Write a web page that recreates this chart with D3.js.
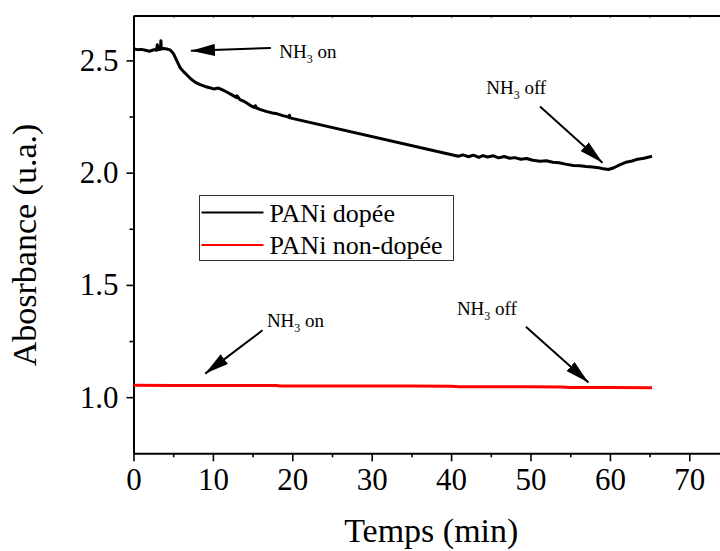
<!DOCTYPE html>
<html>
<head>
<meta charset="utf-8">
<script src="https://d3js.org/d3.v7.min.js"></script>
<style>
  body { margin: 0; background: #fff; }
  svg { display: block; font-family: "Liberation Serif", "Times New Roman", serif; }
</style>
</head>
<body>
<svg id="chart"></svg>
<script>
// PANi dopée (black) - time in min, absorbance
var dopedTime = [0, 0.5, 1, 1.5, 2, 2.3, 2.6, 2.9, 3.0, 3.1, 3.4, 3.45, 3.5, 3.8, 4.2, 4.6,
  5.0, 5.3, 5.6, 5.9, 6.3, 6.7, 7.2, 7.8, 8.4, 9.0, 9.6, 10.1, 10.7, 11.2, 11.8, 12.5,
  13.0, 13.05, 13.4, 14.0, 14.6, 15.1, 15.3, 15.35, 15.5, 16.0, 16.8, 17.5, 18.1, 18.8,
  19.4, 19.6, 19.65, 19.7,
  40.9, 41.5, 42.2, 42.8, 43.5, 44.0, 44.6, 45.3, 46.0, 46.7, 47.4, 48.0, 48.8, 49.5,
  50.3, 51.2, 52.0, 52.8, 53.6, 54.4, 55.4, 56.2, 57.0, 57.8, 58.6, 59.2, 59.8, 60.5,
  61.3, 62.0, 62.8, 63.5, 64.3, 65.3];
var dopedAbs = [2.552, 2.548, 2.549, 2.545, 2.541, 2.544, 2.548, 2.545, 2.570, 2.548, 2.550, 2.588, 2.552, 2.553, 2.551, 2.547,
  2.532, 2.510, 2.488, 2.466, 2.450, 2.436, 2.418, 2.402, 2.392, 2.384, 2.378, 2.373, 2.377, 2.369, 2.358, 2.344,
  2.334, 2.342, 2.325, 2.316, 2.302, 2.292, 2.290, 2.298, 2.288, 2.281, 2.272, 2.266, 2.262, 2.254,
  2.249, 2.246, 2.256, 2.244,
  2.073, 2.079, 2.071, 2.078, 2.068, 2.076, 2.070, 2.075, 2.066, 2.072, 2.064, 2.067, 2.060, 2.063,
  2.055, 2.051, 2.053, 2.046, 2.044, 2.038, 2.032, 2.031, 2.027, 2.025, 2.022, 2.017, 2.014, 2.022,
  2.036, 2.046, 2.052, 2.060, 2.064, 2.073];

// PANi non-dopée (red)
var undopedTime = [0, 5, 10, 15, 18, 18.5, 25, 30, 35, 40, 41, 45, 50, 54, 55, 60, 65.3];
var undopedAbs = [1.053, 1.052, 1.052, 1.052, 1.052, 1.050, 1.050, 1.050, 1.050, 1.049, 1.046, 1.046, 1.046, 1.045, 1.043, 1.043, 1.042];

var seriesNames = ["PANi dopée", "PANi non-dopée"];
var seriesColors = ["#000000", "#ff0000"];

var xMajorTicks = [0, 10, 20, 30, 40, 50, 60, 70];
var xMinorTicks = [5, 15, 25, 35, 45, 55, 65, 75];
var yMajorTicks = [1.0, 1.5, 2.0, 2.5];
var yMinorTicks = [1.25, 1.75, 2.25];

// arrows: label, text x/y, tail x/y, tip x/y in data units
var annotLabels = ["on", "off", "on", "off"];
var annotText = [[18.35, 2.511], [44.42, 2.352], [16.8, 1.314], [40.73, 1.364]];
var annotTail = [[17.3, 2.555], [51.2, 2.295], [16.25, 1.298], [49.42, 1.314]];
var annotTip = [[7.23, 2.543], [59.07, 2.044], [9.03, 1.105], [57.3, 1.065]];

var serif = '"Liberation Serif", "Times New Roman", serif';

var margin = {top: 15.5, left: 133.5},
    width = 595.5,
    height = 437.8;

var svg = d3.select("#chart")
    .attr("width", 720)
    .attr("height", 551);

var g = svg.append("g")
    .attr("transform", "translate(" + margin.left + "," + margin.top + ")");

var x = d3.scaleLinear().domain([0, 75]).range([0, width]);
var y = d3.scaleLinear().domain([0.75, 2.7]).range([height, 0]);

// minor ticks
g.append("g")
    .attr("transform", "translate(0," + height + ")")
    .call(d3.axisBottom(x).tickValues(xMinorTicks).tickSize(4).tickFormat(""))
    .call(a => a.select(".domain").remove());
g.append("g")
    .call(d3.axisLeft(y).tickValues(yMinorTicks).tickSize(4).tickFormat(""))
    .call(a => a.select(".domain").remove());

g.append("g")
    .attr("class", "axis")
    .attr("transform", "translate(0," + height + ")")
    .call(d3.axisBottom(x).tickValues(xMajorTicks).tickSize(8).tickPadding(7).tickSizeOuter(0));
g.append("g")
    .attr("class", "axis")
    .call(d3.axisLeft(y).tickValues(yMajorTicks).tickSize(7).tickPadding(8).tickSizeOuter(0)
      .tickFormat(d3.format(".1f")));

// top and right frame with tiny inward ticks
g.append("g")
    .call(d3.axisTop(x).tickValues(xMajorTicks.concat(xMinorTicks)).tickSize(-2).tickFormat("").tickSizeOuter(0));
g.append("g")
    .attr("transform", "translate(" + width + ",0)")
    .call(d3.axisRight(y).tickValues(yMajorTicks.concat(yMinorTicks)).tickSize(-2).tickFormat("").tickSizeOuter(0));

g.selectAll(".domain").attr("stroke-width", 2);
g.selectAll(".tick line").attr("stroke-width", 1.6);
g.selectAll(".axis")
    .attr("font-family", serif)
    .attr("font-size", 31);
g.selectAll(".axis .tick text")
    .attr("fill", "#000")
    .style("font-family", serif)
    .style("font-size", "31px");

// series
var line = d3.line().x(d => x(d[0])).y(d => y(d[1]));
var series = [d3.zip(dopedTime, dopedAbs), d3.zip(undopedTime, undopedAbs)];

g.selectAll(".series")
    .data(series)
    .enter()
    .append("path")
    .attr("class", "series")
    .attr("fill", "none")
    .attr("stroke", (d, i) => seriesColors[i])
    .attr("stroke-width", 3)
    .attr("stroke-linejoin", "round")
    .attr("d", line);

// arrows
svg.append("defs").append("marker")
    .attr("id", "head")
    .attr("markerUnits", "userSpaceOnUse")
    .attr("viewBox", "0 0 24 12")
    .attr("refX", 24)
    .attr("refY", 6)
    .attr("markerWidth", 24)
    .attr("markerHeight", 12)
    .attr("orient", "auto")
    .append("path")
    .attr("d", "M0,0 L24,6 L0,12 Z")
    .attr("fill", "#000");

annotLabels.forEach(function(lab, i) {
  g.append("line")
      .attr("x1", x(annotTail[i][0]))
      .attr("y1", y(annotTail[i][1]))
      .attr("x2", x(annotTip[i][0]))
      .attr("y2", y(annotTip[i][1]))
      .attr("stroke", "#000")
      .attr("stroke-width", 2)
      .attr("marker-end", "url(#head)");

  var t = g.append("text")
      .attr("x", x(annotText[i][0]))
      .attr("y", y(annotText[i][1]))
      .attr("font-size", 19);
  t.append("tspan").text("NH");
  t.append("tspan").attr("font-size", 12).attr("dy", 5).text("3");
  t.append("tspan").attr("dy", -5).text(" " + lab);
});

// legend
var legend = svg.append("g").attr("transform", "translate(199.5,195.5)");
legend.append("rect")
    .attr("width", 254)
    .attr("height", 65)
    .attr("fill", "#fff")
    .attr("stroke", "#333")
    .attr("stroke-width", 1);
seriesNames.forEach(function(name, i) {
  var yy = 17 + i * 32.5;
  legend.append("line")
      .attr("x1", 2).attr("x2", 64)
      .attr("y1", yy).attr("y2", yy)
      .attr("stroke", seriesColors[i])
      .attr("stroke-width", 2);
  legend.append("text")
      .attr("x", 70)
      .attr("y", yy + 9)
      .attr("font-size", 26)
      .text(name);
});

// axis titles
svg.append("text")
    .attr("x", margin.left + width / 2)
    .attr("y", 542)
    .attr("text-anchor", "middle")
    .attr("font-size", 34)
    .text("Temps (min)");

svg.append("text")
    .attr("transform", "translate(36,245) rotate(-90)")
    .attr("text-anchor", "middle")
    .attr("font-size", 34)
    .text("Abosrbance (u.a.)");
</script>
</body>
</html>
